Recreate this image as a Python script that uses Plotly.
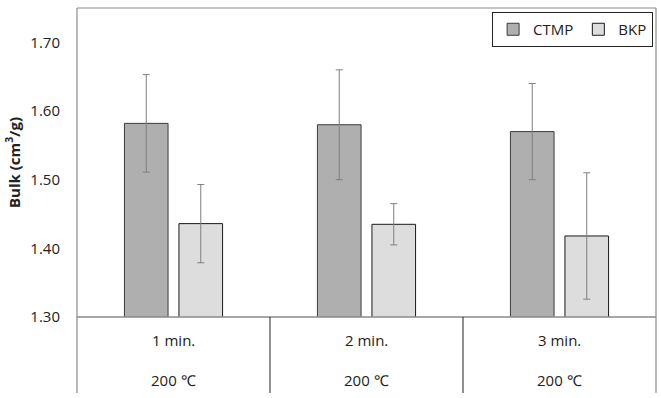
import plotly.graph_objects as go

categories = ["1 min.", "2 min.", "3 min."]
temps = ["200 ℃", "200 ℃", "200 ℃"]
ctmp = [1.582, 1.580, 1.570]
ctmp_err = [0.071, 0.080, 0.070]
bkp = [1.436, 1.435, 1.418]
bkp_err = [0.057, 0.030, 0.092]
yticks = [1.30, 1.40, 1.50, 1.60, 1.70]

font = "Open Sans"
fig = go.Figure()
fig.add_trace(go.Bar(
    name="CTMP", x=categories, y=ctmp,
    marker=dict(color="#afafaf", line=dict(color="#3c3c3c", width=1)),
    error_y=dict(type="data", array=ctmp_err, color="#7f7f7f", thickness=1, width=3.5),
))
fig.add_trace(go.Bar(
    name="BKP", x=categories, y=bkp,
    marker=dict(color="#dddddd", line=dict(color="#1a1a1a", width=1)),
    error_y=dict(type="data", array=bkp_err, color="#7f7f7f", thickness=1, width=3.5),
))

fig.update_layout(
    width=661, height=398,
    margin=dict(l=77, r=5, t=8, b=81, autoexpand=False),
    paper_bgcolor="white", plot_bgcolor="white",
    barmode="group", bargap=0.435, bargroupgap=0.2,
    font=dict(family=font, size=15, color="#222222"),
    showlegend=True,
    legend=dict(orientation="h", x=0.995, xanchor="right", y=0.987, yanchor="top",
                bordercolor="#222222", borderwidth=1, bgcolor="white",
                font=dict(size=15), itemwidth=30, tracegroupgap=0),
    xaxis=dict(showticklabels=False, showline=False, ticks="", showgrid=False,
               range=[-0.5, 2.5], automargin=False),
    yaxis=dict(range=[1.30, 1.75], tickvals=yticks,
               ticktext=[f"{v:.2f}" for v in yticks], tickfont=dict(size=15),
               showgrid=False, zeroline=False, ticks="", showline=False,
               ticklabelstandoff=16, automargin=False,
               title=dict(text="<b>Bulk (cm<sup>3</sup>/g)</b>", font=dict(size=15), standoff=6)),
)

ybot = -76 / 309
# frame
fig.add_shape(type="line", xref="paper", yref="paper", x0=0, x1=1, y0=1, y1=1,
              line=dict(color="#8a8a8a", width=1.2))
fig.add_shape(type="line", xref="paper", yref="paper", x0=0, x1=0, y0=1, y1=ybot,
              line=dict(color="#8a8a8a", width=1.2))
fig.add_shape(type="line", xref="paper", yref="paper", x0=1, x1=1, y0=1, y1=ybot,
              line=dict(color="#8a8a8a", width=1.2))
fig.add_shape(type="line", xref="paper", yref="paper", x0=0, x1=1, y0=0, y1=0,
              line=dict(color="#8a8a8a", width=1.5))
for i in range(1, len(categories)):
    fig.add_shape(type="line", xref="x", yref="paper", x0=i - 0.5, x1=i - 0.5, y0=0, y1=ybot,
                  line=dict(color="#222222", width=1))

for i, (c, t) in enumerate(zip(categories, temps)):
    fig.add_annotation(x=i, y=-23 / 309, xref="x", yref="paper", text=c, showarrow=False,
                       font=dict(size=15), yanchor="middle")
    fig.add_annotation(x=i, y=-63 / 309, xref="x", yref="paper", text=t, showarrow=False,
                       font=dict(size=15), yanchor="middle")

fig.write_html("out.html", config={"displayModeBar": False},
               post_script="document.body.style.margin='0';")
